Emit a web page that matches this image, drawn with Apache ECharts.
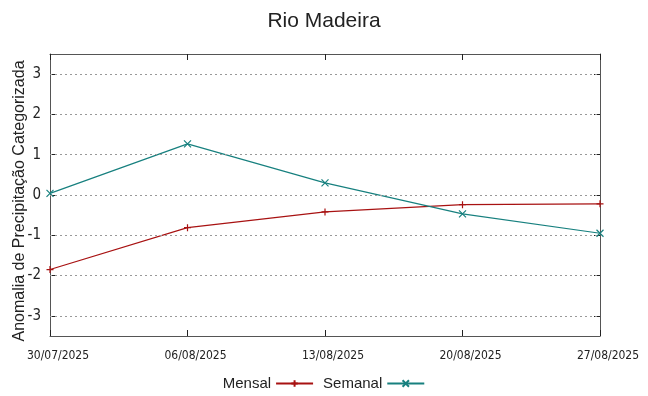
<!DOCTYPE html>
<html>
<head>
<meta charset="utf-8">
<script src="https://cdn.jsdelivr.net/npm/echarts@6/dist/echarts.min.js"></script>
<style>html,body{margin:0;padding:0;background:#fff}#c{width:648px;height:396px}</style>
</head>
<body>
<div id="c"></div>
<script>
var categories = ['30/07/2025', '06/08/2025', '13/08/2025', '20/08/2025', '27/08/2025'];
var mensal = [-1.85, -0.81, -0.42, -0.24, -0.22];
var semanal = [0.04, 1.27, 0.30, -0.47, -0.95];
var yTicks = [-3, -2, -1, 0, 1, 2, 3];

var RED = '#a81212';
var TEAL = '#17807f';
var AX = '#555555';
var plus = 'path://M0,4L8,4M4,0L4,8';
var cross = 'path://M0,0L8,8M8,0L0,8';

var chart = echarts.init(document.getElementById('c'), null, {renderer: 'canvas'});
var ySplit = yTicks.map(function (v) { return {yAxis: v}; });

chart.setOption({
  animation: false,
  backgroundColor: '#ffffff',
  title: {
    text: 'Rio Madeira', left: 'center', top: 6,
    textStyle: {fontFamily: 'Liberation Sans', fontSize: 21, fontWeight: 'normal', color: '#222'}
  },
  legend: {
    bottom: 0, left: 'center', align: 'right', itemWidth: 37, itemHeight: 8, itemGap: 9,
    textStyle: {fontFamily: 'Liberation Sans', fontSize: 15, color: '#222'},
    data: ['Mensal', 'Semanal']
  },
  grid: {left: 50, right: 48, top: 54, bottom: 60, containLabel: false, outerBoundsMode: 'none'},
  xAxis: [{
    type: 'category', data: categories, boundaryGap: false, position: 'bottom',
    axisLine: {show: true, onZero: false, lineStyle: {color: AX, width: 1}},
    axisTick: {show: true, inside: true, length: 6, lineStyle: {color: '#222'}},
    axisLabel: {fontFamily: "'DejaVu Sans Condensed', 'Liberation Sans'", fontSize: 12, color: '#222', margin: 14, padding: [0, 0, 0, 16]},
    splitLine: {show: false}
  }, {
    type: 'category', data: categories, boundaryGap: false, position: 'top',
    axisLine: {show: true, onZero: false, lineStyle: {color: AX, width: 1}},
    axisTick: {show: true, inside: true, length: 6, lineStyle: {color: '#222'}},
    axisLabel: {show: false}, splitLine: {show: false}
  }],
  yAxis: [{
    type: 'value', min: -3.5, max: 3.5, interval: 0.5, position: 'left',
    name: 'Anomalia de Precipitação Categorizada', nameLocation: 'middle', nameGap: 22, nameRotate: 90,
    nameMoveOverlap: false,
    nameTextStyle: {fontFamily: 'Liberation Sans', fontSize: 16, color: '#222', padding: [0, 12, 0, 0]},
    axisLine: {show: true, onZero: false, lineStyle: {color: AX, width: 1}},
    axisTick: {show: true, inside: true, length: 6, customValues: yTicks, lineStyle: {color: '#222'}},
    axisLabel: {fontFamily: "'DejaVu Sans Condensed', 'Liberation Sans'", fontSize: 15, color: '#222', margin: 9, customValues: yTicks},
    splitLine: {show: false}
  }, {
    type: 'value', min: -3.5, max: 3.5, interval: 0.5, position: 'right',
    axisLine: {show: true, onZero: false, lineStyle: {color: AX, width: 1}},
    axisTick: {show: true, inside: true, length: 6, customValues: yTicks, lineStyle: {color: '#222'}},
    axisLabel: {show: false}, splitLine: {show: false}
  }],
  series: [{
    name: 'Mensal', type: 'line', data: mensal, xAxisIndex: 0, yAxisIndex: 0,
    color: RED, symbol: plus, symbolSize: 7, showSymbol: true,
    lineStyle: {color: RED, width: 1.2},
    itemStyle: {color: RED, borderColor: RED, borderWidth: 1.2},
    markLine: {
      silent: true, symbol: 'none', label: {show: false},
      lineStyle: {color: '#999', type: [2, 3], width: 1},
      data: ySplit
    },
    z: 3
  }, {
    name: 'Semanal', type: 'line', data: semanal, xAxisIndex: 0, yAxisIndex: 0,
    color: TEAL, symbol: cross, symbolSize: 7, showSymbol: true,
    lineStyle: {color: TEAL, width: 1.2},
    itemStyle: {color: TEAL, borderColor: TEAL, borderWidth: 1.2},
    z: 4
  }]
});
</script>
</body>
</html>
